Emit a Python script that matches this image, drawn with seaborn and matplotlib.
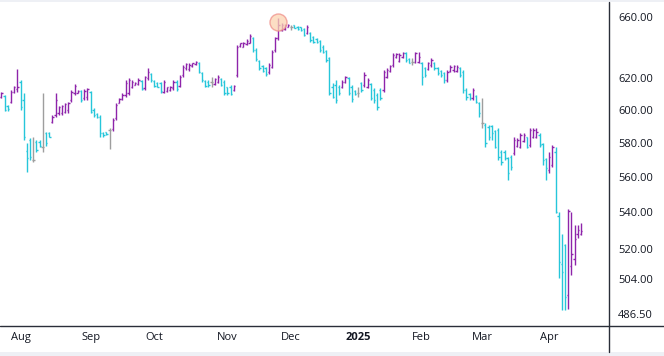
import numpy as np
import pandas as pd
import matplotlib
matplotlib.use("Agg")
import matplotlib.pyplot as plt
import matplotlib.transforms as mtransforms
from matplotlib.lines import Line2D
from matplotlib.patches import Rectangle
from matplotlib.ticker import FixedLocator, NullLocator, FuncFormatter
import seaborn as sns

# ---------------- data ----------------
holidays = ["2024-09-02", "2024-11-28", "2024-12-25", "2025-01-01",
            "2025-01-09", "2025-01-20", "2025-02-17"]
dates = pd.bdate_range("2024-07-24", "2025-04-15", freq="C", holidays=holidays)

opens = [
    607.7, 608.5, 602.3, 605.0, 611.3, 612.7, 617.6, 606.0, 575.0, 581.6,
    569.8, 580.6, 580.6, 577.6, 585.6, 586.0, 592.7, 596.7, 597.8, 597.8,
    598.8, 599.8, 606.0, 610.2, 610.6, 611.9, 607.1, 608.1, 611.3, 599.8,
    597.4, 595.7, 586.0, 586.2, 587.6, 588.0, 594.7, 604.3, 606.4, 609.2,
    610.2, 614.0, 615.5, 616.1, 618.2, 613.3, 619.6, 622.4, 618.2, 616.5,
    616.5, 611.3, 611.9, 612.3, 613.3, 617.6, 614.8, 621.8, 626.0, 625.4,
    627.5, 628.6, 629.7, 623.2, 618.2, 617.6, 617.6, 616.1, 617.6, 619.0,
    617.6, 614.0, 614.4, 612.3, 621.8, 640.5, 640.1, 641.9, 642.7, 645.6,
    637.9, 631.0, 627.5, 626.0, 623.9, 627.1, 637.9, 645.6, 651.2, 651.6,
    653.4, 653.4, 654.4, 653.4, 653.0, 651.6, 649.0, 649.4, 646.7, 645.2,
    644.1, 640.1, 637.5, 632.5, 614.4, 615.5, 614.4, 614.0, 617.6, 619.6,
    614.4, 611.9, 610.6, 616.5, 615.5, 614.4, 616.1, 612.3, 609.2, 612.3,
    612.3, 620.7, 624.6, 628.2, 633.2, 631.0, 633.2, 636.2, 631.8, 630.4,
    630.4, 630.4, 629.3, 626.0, 625.4, 628.2, 629.7, 626.5, 624.6, 622.8,
    618.6, 624.6, 625.0, 624.6, 626.5, 623.9, 612.3, 609.6, 607.1, 608.5,
    603.9, 591.7, 590.6, 589.6, 590.0, 587.2, 587.6, 574.7, 574.7, 570.8,
    571.7, 573.7, 578.0, 577.6, 581.2, 583.2, 578.6, 583.6, 583.2, 584.6,
    579.2, 570.2, 564.0, 566.9, 574.5, 538.0, 512.0, 522.0, 496.0, 511.0,
    514.4, 528.0, 528.0]

highs = [
    611.3, 609.2, 602.9, 612.3, 614.8, 625.6, 618.6, 610.2, 579.6, 582.6,
    583.6, 581.6, 581.6, 610.2, 586.6, 586.6, 596.7, 610.2, 602.3, 602.9,
    603.9, 605.0, 612.3, 616.1, 612.3, 612.3, 612.7, 613.3, 611.9, 600.9,
    597.8, 596.7, 586.6, 586.6, 588.6, 594.7, 603.9, 607.1, 610.2, 618.6,
    620.1, 618.6, 617.6, 619.6, 618.6, 621.1, 626.0, 622.8, 618.6, 617.6,
    617.6, 618.6, 614.4, 614.8, 618.6, 618.6, 621.8, 628.2, 629.3, 629.3,
    629.7, 630.8, 630.4, 623.9, 618.6, 618.6, 620.7, 619.6, 621.8, 619.6,
    618.6, 614.4, 615.5, 615.5, 641.2, 642.7, 643.4, 644.9, 648.5, 646.3,
    639.0, 631.4, 628.2, 627.1, 629.3, 637.9, 646.7, 659.1, 655.7, 655.3,
    655.3, 654.6, 654.6, 653.9, 653.4, 652.3, 654.6, 650.1, 647.2, 645.6,
    644.5, 641.2, 637.9, 633.6, 616.5, 618.6, 615.5, 618.6, 621.1, 620.7,
    615.5, 612.3, 614.4, 617.6, 623.9, 619.6, 616.5, 613.3, 610.2, 613.3,
    625.0, 626.0, 628.2, 635.8, 635.8, 635.8, 636.8, 636.8, 632.5, 632.5,
    636.8, 636.8, 630.4, 627.1, 630.4, 632.5, 630.4, 627.1, 625.0, 623.9,
    625.0, 628.2, 628.2, 628.2, 627.1, 625.0, 613.3, 610.2, 613.3, 609.2,
    605.0, 607.1, 591.7, 590.6, 590.6, 587.6, 588.6, 575.7, 575.7, 571.7,
    572.7, 583.6, 582.6, 585.6, 585.6, 583.6, 588.8, 588.8, 588.6, 585.6,
    579.8, 571.0, 574.5, 578.6, 577.5, 540.3, 528.2, 522.8, 542.0, 540.3,
    533.2, 533.2, 534.3]

lows = [
    607.1, 599.2, 599.2, 603.9, 610.6, 611.3, 599.8, 581.6, 562.6, 569.8,
    568.8, 574.7, 577.6, 574.7, 578.2, 583.2, 592.1, 595.7, 596.7, 596.7,
    597.8, 598.2, 605.0, 609.2, 610.2, 605.0, 606.0, 606.0, 597.8, 595.7,
    594.7, 583.6, 583.6, 584.6, 576.5, 587.2, 593.7, 603.9, 606.0, 608.1,
    609.2, 613.3, 615.1, 615.5, 612.3, 612.3, 618.6, 617.6, 614.0, 614.0,
    610.6, 610.2, 611.3, 611.9, 612.3, 611.7, 614.4, 620.7, 625.0, 624.6,
    627.1, 628.2, 622.8, 617.6, 614.0, 614.0, 614.0, 615.5, 616.5, 614.8,
    609.2, 609.2, 609.2, 611.9, 620.7, 640.1, 639.7, 641.2, 642.3, 636.8,
    630.8, 625.0, 623.9, 621.1, 622.4, 626.0, 636.8, 644.5, 650.5, 651.2,
    653.0, 651.2, 652.3, 651.2, 650.8, 647.2, 648.3, 643.4, 642.7, 642.7,
    636.8, 635.8, 630.4, 609.2, 607.1, 603.9, 609.2, 613.3, 616.5, 609.2,
    605.0, 609.2, 608.1, 611.3, 614.4, 613.3, 606.0, 603.9, 599.8, 606.0,
    611.3, 619.6, 623.9, 627.1, 632.5, 630.4, 632.5, 630.4, 629.3, 628.2,
    629.3, 629.3, 615.5, 620.7, 625.0, 627.1, 625.0, 621.8, 620.7, 616.5,
    617.6, 623.9, 623.9, 623.9, 620.7, 610.2, 606.0, 606.0, 606.0, 603.9,
    595.7, 588.6, 577.6, 581.6, 581.6, 576.7, 569.8, 566.9, 569.8, 558.2,
    564.0, 572.7, 577.6, 576.7, 580.6, 576.7, 577.4, 582.8, 582.6, 577.6,
    566.9, 558.2, 562.2, 565.7, 539.5, 504.5, 488.6, 488.6, 489.1, 506.5,
    511.3, 526.1, 527.7]

closes = [
    610.2, 599.8, 600.2, 611.3, 614.0, 614.0, 601.9, 583.6, 570.8, 571.7,
    569.8, 575.7, 578.0, 577.6, 579.6, 583.6, 595.7, 606.0, 601.9, 602.3,
    603.5, 604.3, 611.3, 614.8, 611.9, 606.0, 611.9, 612.7, 598.8, 596.7,
    595.3, 585.6, 584.6, 585.2, 587.6, 593.7, 602.9, 606.4, 609.2, 616.9,
    618.6, 617.6, 616.9, 618.6, 612.7, 620.3, 623.9, 618.6, 614.8, 614.4,
    611.9, 617.6, 614.0, 614.0, 617.6, 612.7, 620.7, 627.1, 628.6, 628.2,
    629.3, 630.1, 623.9, 618.6, 614.8, 615.5, 617.6, 619.0, 620.7, 615.5,
    610.2, 610.2, 609.8, 614.8, 640.1, 642.3, 642.7, 644.1, 647.2, 637.9,
    631.8, 626.0, 624.6, 622.4, 628.2, 636.8, 645.6, 654.6, 654.6, 654.4,
    654.8, 653.4, 652.5, 651.6, 651.2, 647.9, 653.4, 644.5, 643.4, 643.2,
    637.9, 636.8, 631.4, 610.2, 608.1, 606.0, 610.2, 617.6, 620.3, 610.2,
    606.4, 609.6, 610.6, 612.3, 621.8, 618.6, 607.1, 606.0, 601.9, 607.1,
    623.9, 625.0, 627.5, 634.7, 635.3, 634.7, 636.2, 631.4, 629.7, 630.4,
    635.8, 633.6, 620.7, 621.8, 629.3, 631.4, 626.0, 622.8, 621.8, 618.6,
    623.9, 627.1, 627.5, 627.1, 621.8, 612.3, 608.1, 607.1, 612.3, 605.0,
    597.8, 591.7, 579.6, 583.6, 585.6, 577.6, 571.7, 568.8, 570.8, 562.0,
    565.9, 581.6, 581.6, 584.6, 584.6, 577.6, 587.6, 587.6, 586.6, 578.6,
    569.8, 565.0, 571.7, 577.4, 540.3, 513.3, 508.0, 495.0, 540.5, 517.5,
    525.5, 530.4, 529.5]

y_ticks = [486.5, 504.0, 520.0, 540.0, 560.0, 580.0, 600.0, 620.0, 660.0]

# ---------------- style ----------------
sns.set_theme(style="white")
plt.rcParams["font.family"] = ["Open Sans", "DejaVu Sans"]

UP = "#8e24aa"
DOWN = "#26c6da"
FLAT = "#9e9e9e"
TEXT = "#131722"

df = pd.DataFrame({"date": dates, "open": opens, "high": highs,
                   "low": lows, "close": closes})
df["i"] = np.arange(len(df))
df["color"] = np.where(df["close"] > df["open"], UP,
                       np.where(df["close"] < df["open"], DOWN, FLAT))

W, H = 664, 356
fig = plt.figure(figsize=(W / 100, H / 100), dpi=100, facecolor="white")
ax_right_px, ax_bottom_px, ax_top_px = 609, 326, 3
ax = fig.add_axes([0, 1 - ax_bottom_px / H, ax_right_px / W,
                   (ax_bottom_px - ax_top_px) / H])
ax.set_facecolor("white")

lw = 1.0
half = 0.42
ax.vlines(df["i"], df["low"], df["high"], colors=df["color"], lw=lw)
ax.hlines(df["open"], df["i"] - half, df["i"], colors=df["color"], lw=lw)
ax.hlines(df["close"], df["i"], df["i"] + half, colors=df["color"], lw=lw)

# highest-high marker
imax = int(df["high"].idxmax())
off = mtransforms.offset_copy(ax.transData, fig=fig, x=0, y=-2.5, units="points")
ax.scatter([imax], [df["high"][imax]], s=150, transform=off,
           facecolor="#fbd3b0", edgecolor="#ef8f8a", linewidth=1.0,
           alpha=0.75, zorder=5)

ax.set_yscale("log")
ax.set_ylim(480.4, 669.5)
ax.set_xlim(-0.44, 190.8)

ax.yaxis.tick_right()
ax.yaxis.set_major_locator(FixedLocator(y_ticks))
ax.yaxis.set_minor_locator(NullLocator())
ax.yaxis.set_major_formatter(FuncFormatter(lambda v, p: f"{v:.2f}"))

# month ticks at first trading day of each month
month_first = df.groupby(df["date"].dt.to_period("M"))["i"].min()
month_first = month_first[month_first > 0]
pos = list(month_first.values)
labels = []
for per in month_first.index:
    labels.append(str(per.year) if per.month == 1 else per.strftime("%b"))
ax.set_xticks(pos)
ax.set_xticklabels(labels)
ax.xaxis.set_minor_locator(NullLocator())
for t, lab in zip(ax.get_xticklabels(), labels):
    if lab.isdigit():
        t.set_fontweight("bold")

ax.tick_params(axis="both", length=0, labelsize=8, colors=TEXT)
ax.tick_params(axis="x", pad=4.5)
ax.tick_params(axis="y", pad=6.5)
ax.grid(False)
for s in ax.spines.values():
    s.set_visible(False)

# axis lines (extend like the reference)
yb = 1 - ax_bottom_px / H
xr = ax_right_px / W
fig.add_artist(Line2D([0, 1], [yb, yb], transform=fig.transFigure,
                      color="#2a2e39", lw=1.0))
fig.add_artist(Line2D([xr, xr], [4 / H, 1 - 2 / H], transform=fig.transFigure,
                      color="#2a2e39", lw=1.0))
# light frame bands
fig.add_artist(Rectangle((0, 1 - 2 / H), 1, 2 / H, transform=fig.transFigure,
                         color="#eef0f5", lw=0))
fig.add_artist(Rectangle((0, 0), 1, 4 / H, transform=fig.transFigure,
                         color="#eef0f5", lw=0))

fig.savefig("out.png", dpi=100, facecolor="white")
